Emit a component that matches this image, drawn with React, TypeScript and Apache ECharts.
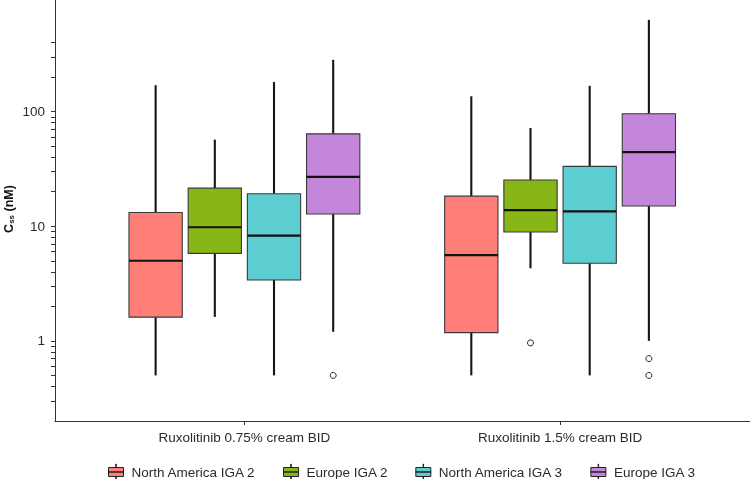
import React, { useEffect, useRef } from 'react';
import * as echarts from 'echarts';

// ---------- data ----------
const CATEGORIES = ['Ruxolitinib 0.75% cream BID', 'Ruxolitinib 1.5% cream BID'];
const GROUPS = ['North America IGA 2', 'Europe IGA 2', 'North America IGA 3', 'Europe IGA 3'];
const COLORS = ['#FF7F78', '#88B517', '#5CCDD0', '#C486DA'];

// [min, Q1, median, Q3, max] for each category
const NA_IGA2 = [[0.5, 1.61, 5.0, 13.2, 170], [0.5, 1.18, 5.6, 18.3, 136]];
const EU_IGA2 = [[1.62, 5.8, 9.8, 21.5, 57], [4.3, 8.9, 13.8, 25.3, 72]];
const NA_IGA3 = [[0.5, 3.4, 8.3, 19.2, 181], [0.5, 4.76, 13.5, 33.3, 168]];
const EU_IGA3 = [[1.2, 12.8, 27, 64, 283], [1.0, 15, 44.3, 95.7, 632]];

// outliers for each category
const NA_IGA2_OUT = [[], []];
const EU_IGA2_OUT = [[], [0.96]];
const NA_IGA3_OUT = [[], []];
const EU_IGA3_OUT = [[0.5], [0.7, 0.5]];

const Y_LABELS = [1, 10, 100];
const Y_TICKS = [
  0.3, 0.4, 0.5, 0.6, 0.7, 0.8, 0.9,
  1, 2, 3, 4, 5, 6, 7, 8, 9,
  10, 20, 30, 40, 50, 60, 70, 80, 90,
  100, 200, 300, 400,
];
const X_TICKS = [1, 2];

// ---------- layout / style ----------
const BOXES = [NA_IGA2, EU_IGA2, NA_IGA3, EU_IGA3];
const OUTS = [NA_IGA2_OUT, EU_IGA2_OUT, NA_IGA3_OUT, EU_IGA3_OUT];
const SLOT = 0.75 / 4; // dodge width per group (axis units)
const BOX_W = SLOT * 0.9;
const FONT = 'Liberation Sans, Arial, Helvetica, sans-serif';
const AXIS_COLOR = '#333';
const TEXT_COLOR = '#2b2b2b';

const ICON =
  'path://M0 3.5H15V12.5H0Z' +
  'M0 7.8V8.2H15V7.8Z' +
  'M7.3 0H7.7V3.5H7.3Z' +
  'M7.3 12.5H7.7V16H7.3Z';

function boxSeries(gi: number) {
  const data = BOXES[gi].map((b, ci) => [ci + 1, ...b]);
  return {
    type: 'custom',
    name: GROUPS[gi],
    itemStyle: { color: COLORS[gi] },
    encode: { x: 0, y: [1, 2, 3, 4, 5] },
    data,
    renderItem: (params: any, api: any) => {
      const cx = api.value(0) + (gi - 1.5) * SLOT;
      const pMin = api.coord([cx, api.value(1)]);
      const pQ1 = api.coord([cx, api.value(2)]);
      const pMed = api.coord([cx, api.value(3)]);
      const pQ3 = api.coord([cx, api.value(4)]);
      const pMax = api.coord([cx, api.value(5)]);
      const xl = api.coord([cx - BOX_W / 2, api.value(3)])[0];
      const xr = api.coord([cx + BOX_W / 2, api.value(3)])[0];
      const x = pMed[0];
      return {
        type: 'group',
        children: [
          { type: 'line', shape: { x1: x, y1: pMax[1], x2: x, y2: pQ3[1] }, style: { stroke: '#151515', lineWidth: 2.1 } },
          { type: 'line', shape: { x1: x, y1: pQ1[1], x2: x, y2: pMin[1] }, style: { stroke: '#151515', lineWidth: 2.1 } },
          {
            type: 'rect',
            shape: { x: xl, y: pQ3[1], width: xr - xl, height: pQ1[1] - pQ3[1] },
            style: { fill: COLORS[gi], stroke: '#3a3a3a', lineWidth: 1.1 },
          },
          { type: 'line', shape: { x1: xl, y1: pMed[1], x2: xr, y2: pMed[1] }, style: { stroke: '#111', lineWidth: 2.2 } },
        ],
      };
    },
  };
}

function outlierSeries(gi: number) {
  const data: number[][] = [];
  OUTS[gi].forEach((vals: number[], ci: number) => {
    vals.forEach((v) => data.push([ci + 1, v]));
  });
  return {
    type: 'custom',
    name: GROUPS[gi],
    itemStyle: { color: COLORS[gi] },
    encode: { x: 0, y: 1 },
    data,
    renderItem: (params: any, api: any) => {
      const cx = api.value(0) + (gi - 1.5) * SLOT;
      const p = api.coord([cx, api.value(1)]);
      return { type: 'circle', shape: { cx: p[0], cy: p[1], r: 3 }, style: { fill: '#fff', stroke: '#222', lineWidth: 1 } };
    },
  };
}

export default function App() {
  const ref = useRef<HTMLDivElement>(null);

  useEffect(() => {
    if (!ref.current) return;
    const chart = echarts.init(ref.current, null, { renderer: 'svg' });
    const option: any = {
      animation: false,
      textStyle: { fontFamily: FONT },
      grid: { left: 55, right: 1.5, top: -3, bottom: 58, show: false, outerBoundsMode: 'none' },
      legend: {
        left: 103,
        top: 458.5,
        itemWidth: 15,
        itemHeight: 16,
        itemGap: 27,
        data: GROUPS.map((name) => ({ name, icon: ICON })),
        itemStyle: { borderColor: '#222', borderWidth: 1 },
        textStyle: { fontFamily: FONT, fontSize: 13.5, color: TEXT_COLOR, padding: [0, 0, 0, 3] },
        selectedMode: false,
      },
      xAxis: {
        type: 'value',
        min: 0.4,
        max: 2.6,
        splitLine: { show: false },
        axisLine: { show: true, onZero: false, lineStyle: { color: AXIS_COLOR, width: 1 } },
        axisTick: { show: true, length: 4, customValues: X_TICKS, lineStyle: { color: AXIS_COLOR, width: 1 } },
        axisLabel: {
          customValues: X_TICKS,
          margin: 9,
          fontSize: 13.5,
          color: TEXT_COLOR,
          fontFamily: FONT,
          formatter: (v: number) => CATEGORIES[Math.round(v) - 1] ?? '',
        },
      },
      yAxis: {
        type: 'log',
        min: 0.2,
        max: 1000,
        splitLine: { show: false },
        axisLine: { show: true, onZero: false, lineStyle: { color: AXIS_COLOR, width: 1 } },
        axisTick: { show: true, length: 4, customValues: Y_TICKS, lineStyle: { color: AXIS_COLOR, width: 1 } },
        axisLabel: {
          customValues: Y_LABELS,
          margin: 10,
          fontSize: 13.5,
          color: TEXT_COLOR,
          fontFamily: FONT,
          formatter: (v: number) => String(Math.round(v * 1000) / 1000),
        },
        name: '{b|C}{s|ss}{b| (nM)}',
        nameLocation: 'middle',
        nameRotate: 90,
        nameGap: 40,
        nameMoveOverlap: false,
        nameTextStyle: {
          rich: {
            b: { fontSize: 12.5, fontWeight: 'bold', color: '#111', fontFamily: FONT, lineHeight: 13 },
            s: { fontSize: 8, fontWeight: 'bold', color: '#111', fontFamily: FONT, verticalAlign: 'bottom', lineHeight: 8 },
          },
        },
      },
      series: [0, 1, 2, 3].map(boxSeries).concat([0, 1, 2, 3].map(outlierSeries)),
    };
    chart.setOption(option);
    return () => chart.dispose();
  }, []);

  return <div ref={ref} style={{ position: 'fixed', left: 0, top: 0, width: 751, height: 479 }} />;
}
